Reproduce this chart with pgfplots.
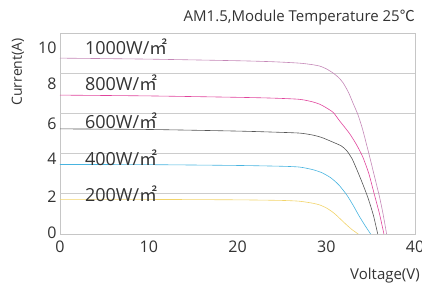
\documentclass[border=0pt]{standalone}
\usepackage{fontspec}
\setmainfont{Open Sans}
\newfontfamily\cjk{Noto Sans CJK SC}
\usepackage{pgfplots}
\pgfplotsset{compat=1.18}
\definecolor{cA}{HTML}{C487B7}
\definecolor{cB}{HTML}{E0449C}
\definecolor{cC}{HTML}{555555}
\definecolor{cD}{HTML}{48B4E0}
\definecolor{cE}{HTML}{F2D46A}
\definecolor{txt}{HTML}{333333}
\newcommand{\sqm}{{\cjk ㎡}}
\begin{document}
\begin{tikzpicture}
\useasboundingbox (-60pt,-50pt) rectangle (362pt,234pt);
\begin{axis}[
  scale only axis, width=355pt, height=201pt,
  xmin=0, xmax=40, ymin=0, ymax=10,
  axis line style={draw=gray!45, line width=0.8pt},
  xtick={0,10,20,30,40},
  ytick={0.06,1.88,3.75,5.5,7.45,9.25},
  yticklabels={0,2,4,6,8,10},
  extra y ticks={2,4,6,8},
  extra y tick labels={},
  extra y tick style={grid=major},
  major grid style={draw=gray!40, line width=0.8pt},
  major tick length=0pt,
  tick label style={font=\fontsize{16}{18}\selectfont, text=txt},
  xticklabel style={yshift=-3pt},
  /pgf/number format/assume math mode=true,
  clip=false,
  every axis plot/.append style={line width=0.6pt, smooth, tension=0.4, no marks},
]
% 1000 W/m2
\addplot[cA] coordinates {(0,8.75) (10,8.7) (20,8.62) (24,8.57) (27,8.5) (28.5,8.42) (29.3,8.35) (30,8.22) (30.8,8.0) (31.4,7.78) (31.9,7.52) (32.5,7.05) (33,6.53) (33.6,5.9) (34.1,5.2) (34.6,4.35) (35.0,3.65) (35.5,2.75) (36.0,1.85) (36.4,1.0) (36.8,0)};
% 800 W/m2
\addplot[cB] coordinates {(0,6.91) (10,6.87) (20,6.8) (24,6.76) (27,6.7) (28.5,6.57) (29.3,6.45) (30,6.28) (30.8,6.04) (31.5,5.63) (32.1,5.3) (32.7,4.95) (33.4,4.45) (34.1,3.85) (34.8,3.0) (35.4,2.0) (36.0,1.0) (36.5,0)};
% 600 W/m2
\addplot[cC] coordinates {(0,5.23) (10,5.2) (20,5.12) (24,5.07) (27,5.02) (28.5,4.92) (29.5,4.8) (30.6,4.6) (31.7,4.38) (32.3,4.15) (32.9,3.75) (33.5,3.15) (34.1,2.5) (34.7,1.8) (35.3,0.95) (35.8,0)};
% 400 W/m2
\addplot[cD] coordinates {(0,3.46) (10,3.45) (20,3.41) (25,3.37) (27,3.33) (28.5,3.2) (29.5,3.05) (30.5,2.8) (31.4,2.45) (32.3,1.95) (33.0,1.45) (33.7,0.9) (34.4,0.4) (35.0,0)};
% 200 W/m2
\addplot[cE] coordinates {(0,1.72) (10,1.72) (20,1.7) (25,1.67) (27,1.63) (28.5,1.53) (29.3,1.44) (30.0,1.3) (30.6,1.13) (31.1,0.95) (31.7,0.7) (32.3,0.45) (32.9,0.22) (33.6,0)};
\begin{scope}[every node/.style={anchor=base west, inner sep=0pt, text=txt, font=\fontsize{18}{20}\selectfont}]
\node at (axis cs:2.8,8.95) {1000W/\sqm};
\node at (axis cs:2.8,7.13) {800W/\sqm};
\node at (axis cs:2.8,5.25) {600W/\sqm};
\node at (axis cs:2.8,3.42) {400W/\sqm};
\node at (axis cs:2.8,1.60) {200W/\sqm};
\end{scope}
\node[yshift=8pt, anchor=south east, inner sep=0pt, text=txt, font=\fontsize{15}{17}\selectfont] at (rel axis cs:1,1) {AM1.5,Module Temperature 25{\cjk ℃}};
\node[xshift=5pt, yshift=-34pt, anchor=north east, inner sep=0pt, text=txt, font=\fontsize{15}{17}\selectfont] at (rel axis cs:1,0) {Voltage(V)};
\node[xshift=-42pt, rotate=90, inner sep=0pt, text=txt, font=\fontsize{14}{16}\selectfont] at (rel axis cs:0,0.806) {Current(A)};
\end{axis}
\end{tikzpicture}
\end{document}
